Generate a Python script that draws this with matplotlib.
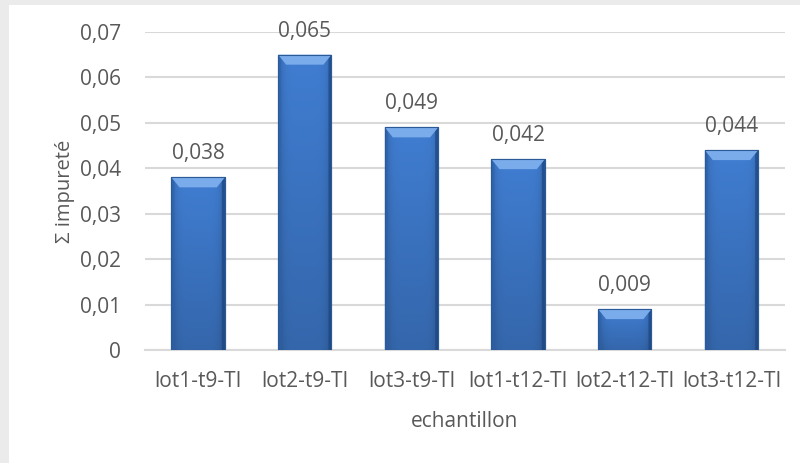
import matplotlib
matplotlib.use("Agg")
import matplotlib.pyplot as plt
import numpy as np
from matplotlib.patches import Polygon, Rectangle
from matplotlib.ticker import FuncFormatter

echantillons = ["lot1-t9-TI", "lot2-t9-TI", "lot3-t9-TI",
                "lot1-t12-TI", "lot2-t12-TI", "lot3-t12-TI"]
impurete = [0.038, 0.065, 0.049, 0.042, 0.009, 0.044]
graduations = [0, 0.01, 0.02, 0.03, 0.04, 0.05, 0.06, 0.07]

GRIS_TEXTE = "#595959"
GRIS_GRILLE = "#d9d9d9"

plt.rcParams["font.family"] = ["Open Sans", "DejaVu Sans"]


def virgule(v, _pos=None):
    if v == 0:
        return "0"
    return f"{v:.2f}".replace(".", ",")


def degrade_barre():
    # bleu plus clair au centre, bords et bas assombris
    xs = np.linspace(-1, 1, 80)
    ys = np.linspace(0, 1, 80)[:, None]
    bord = 1 - 0.22 * np.abs(xs) ** 6
    haut = 0.82 + 0.18 * ys
    base = np.array([0.25, 0.49, 0.82])
    img = base[None, None, :] * (bord[None, :, None] * haut[:, :, None])
    return np.clip(img, 0, 1)


fig = plt.figure(figsize=(8, 4.63), dpi=100)
fig.patch.set_facecolor("white")

# ombre du cadre du graphique
fig.add_artist(Rectangle((0, 0.989), 1, 0.011, transform=fig.transFigure,
                         color="#ebebeb", lw=0))
fig.add_artist(Rectangle((0, 0), 0.011, 1, transform=fig.transFigure,
                         color="#ebebeb", lw=0))

ax = fig.add_axes([0.181, 0.244, 0.8, 0.687])
x = np.arange(len(echantillons))
largeur = 0.5
barres = ax.bar(x, impurete, width=largeur, color="#3f7cc8", zorder=2,
                edgecolor="#2a5a98", linewidth=0.8)

img = degrade_barre()
dy = 0.0022   # hauteur du biseau
dx = 0.075    # retrait des coins du biseau
ds = 0.028    # largeur des flancs
for b, v in zip(barres, impurete):
    x0, x1 = b.get_x(), b.get_x() + b.get_width()
    im = ax.imshow(img, extent=(x0, x1, 0, v), origin="lower",
                   aspect="auto", zorder=3, interpolation="bilinear")
    im.set_clip_path(b)
    # flancs et biseau du haut
    ax.add_patch(Polygon([(x0, v), (x0 + ds, v - dy * ds / dx), (x0 + ds, 0), (x0, 0)],
                         closed=True, facecolor="#2d63ad", edgecolor="none",
                         alpha=0.6, zorder=4))
    ax.add_patch(Polygon([(x1, v), (x1 - ds, v - dy * ds / dx), (x1 - ds, 0), (x1, 0)],
                         closed=True, facecolor="#1d4680", edgecolor="none",
                         alpha=0.7, zorder=4))
    ax.add_patch(Polygon([(x0, v), (x1, v), (x1 - dx, v - dy), (x0 + dx, v - dy)],
                         closed=True, facecolor="#7aabea", edgecolor="none", zorder=4))
    ax.add_patch(Rectangle((x0, 0), x1 - x0, v, fill=False,
                           edgecolor="#2a5a98", lw=0.8, zorder=5))
    ax.annotate(f"{v:.3f}".replace(".", ","),
                (b.get_x() + b.get_width() / 2, v), xytext=(0, 17),
                textcoords="offset points", ha="center", va="center",
                fontsize=15, color=GRIS_TEXTE, zorder=6)

ax.set_xlim(-0.5, len(echantillons) - 0.5)
ax.set_ylim(0, 0.07)
ax.set_yticks(graduations)
ax.yaxis.set_major_formatter(FuncFormatter(virgule))
ax.set_xticks(x)
ax.set_xticklabels(echantillons)
ax.grid(axis="y", color=GRIS_GRILLE, linewidth=1.5, zorder=0)
ax.set_axisbelow(True)

for cote in ["top", "right", "left"]:
    ax.spines[cote].set_visible(False)
ax.spines["bottom"].set_color(GRIS_GRILLE)
ax.spines["bottom"].set_linewidth(1.5)

ax.tick_params(axis="both", length=0, labelsize=15, labelcolor=GRIS_TEXTE)
ax.tick_params(axis="y", pad=17)
ax.tick_params(axis="x", pad=15)

ax.set_xlabel("echantillon", fontsize=15, color=GRIS_TEXTE, labelpad=14)
ax.set_ylabel("Σ impureté", fontsize=14.5, color=GRIS_TEXTE, labelpad=4)

fig.savefig("out.png", dpi=100)
plt.close(fig)
